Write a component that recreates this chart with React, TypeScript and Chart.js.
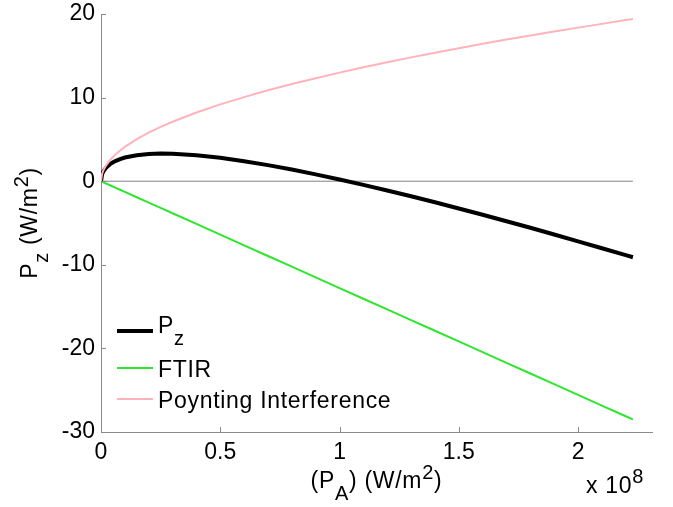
import React, { useEffect, useRef } from 'react';
import { Chart, registerables } from 'chart.js';

Chart.register(...registerables);

// x in units of 10^8 W/m^2
const xValues = [0, 0.005, 0.01, 0.02, 0.04, 0.06, 0.08, 0.1, 0.15, 0.2, 0.25, 0.3, 0.4, 0.5, 0.6, 0.7, 0.8, 0.9, 1.0, 1.1, 1.2, 1.3, 1.4, 1.5, 1.6, 1.7, 1.8, 1.9, 2.0, 2.1, 2.2, 2.23];
const pzValues = [0, 0.86, 1.17, 1.58, 2.09, 2.41, 2.65, 2.83, 3.11, 3.25, 3.30, 3.28, 3.11, 2.80, 2.39, 1.92, 1.40, 0.82, 0.21, -0.44, -1.11, -1.80, -2.52, -3.26, -4.02, -4.79, -5.57, -6.37, -7.19, -8.02, -8.85, -9.10];
const ftirValues = [0, -0.06, -0.13, -0.26, -0.51, -0.77, -1.02, -1.28, -1.92, -2.56, -3.20, -3.83, -5.11, -6.39, -7.67, -8.95, -10.22, -11.50, -12.78, -14.06, -15.34, -16.61, -17.89, -19.17, -20.45, -21.73, -23.00, -24.28, -25.56, -26.84, -28.12, -28.50];
const poyntingValues = [0, 0.92, 1.30, 1.84, 2.60, 3.18, 3.67, 4.11, 5.03, 5.81, 6.50, 7.11, 8.22, 9.19, 10.06, 10.87, 11.62, 12.32, 12.99, 13.62, 14.23, 14.81, 15.37, 15.91, 16.43, 16.94, 17.43, 17.91, 18.37, 18.82, 19.27, 19.40];
const zeroLineX = [0, 2.23];
const zeroLineY = [0, 0];

const xTicks = [0, 0.5, 1, 1.5, 2];
const yTicks = [-30, -20, -10, 0, 10, 20];
const xMin = 0;
const xMax = 2.31;
const yMin = -30;
const yMax = 20;

const FONT = '"Liberation Sans", Arial, sans-serif';
const TEXT_SIZE = 23;
const AXIS_GRAY = '#8a8a8a';
const PZ_COLOR = '#000000';
const FTIR_COLOR = '#2ee62e';
const POYNTING_COLOR = '#ffb3ba';
const ZERO_COLOR = '#808080';

type Part = [string, 'n' | 'sub' | 'sup'];

function drawRich(ctx: CanvasRenderingContext2D, parts: Part[], x: number, y: number, align: 'left' | 'center' | 'right', size: number, subDy: number, supDy: number) {
  const subSize = Math.round(size * 0.85);
  (ctx as any).letterSpacing = '0.7px';
  const widths = parts.map(([t, k]) => {
    ctx.font = `${k === 'n' ? size : subSize}px ${FONT}`;
    return ctx.measureText(t).width;
  });
  const total = widths.reduce((a, b) => a + b, 0);
  let cx = align === 'left' ? x : align === 'center' ? x - total / 2 : x - total;
  ctx.textAlign = 'left';
  ctx.textBaseline = 'alphabetic';
  parts.forEach(([t, k], i) => {
    ctx.font = `${k === 'n' ? size : subSize}px ${FONT}`;
    const dy = k === 'sub' ? subDy : k === 'sup' ? supDy : 0;
    ctx.fillText(t, cx, y + dy);
    cx += widths[i];
  });
  (ctx as any).letterSpacing = '0px';
}

const decorPlugin = {
  id: 'decor',
  afterDraw(chart: any) {
    const { ctx, chartArea, scales } = chart;
    const xs = scales.x;
    const ys = scales.y;
    ctx.save();
    // inward ticks
    ctx.strokeStyle = AXIS_GRAY;
    ctx.lineWidth = 1;
    ctx.beginPath();
    xTicks.forEach((v) => {
      const px = Math.round(xs.getPixelForValue(v)) + 0.5;
      ctx.moveTo(px, chartArea.bottom);
      ctx.lineTo(px, chartArea.bottom - 5);
    });
    yTicks.forEach((v) => {
      const py = Math.round(ys.getPixelForValue(v)) + 0.5;
      ctx.moveTo(chartArea.left, py);
      ctx.lineTo(chartArea.left + 5, py);
    });
    ctx.stroke();

    ctx.fillStyle = '#000';
    // x title
    drawRich(ctx, [['(P', 'n'], ['A', 'sub'], [') (W/m', 'n'], ['2', 'sup'], [')', 'n']], (chartArea.left + chartArea.right) / 2, 488, 'center', TEXT_SIZE, 12, -9);
    // exponent
    drawRich(ctx, [['x 10', 'n'], ['8', 'sup']], chartArea.right - 8, 493, 'right', TEXT_SIZE, 12, -10);
    // y title
    ctx.save();
    ctx.translate(37, (chartArea.top + chartArea.bottom) / 2);
    ctx.rotate(-Math.PI / 2);
    drawRich(ctx, [['P', 'n'], ['z', 'sub'], [' (W/m', 'n'], ['2', 'sup'], [')', 'n']], 0, 0, 'center', TEXT_SIZE, 11, -9);
    ctx.restore();

    // legend
    const lx0 = chartArea.left + 16;
    const lx1 = chartArea.left + 52;
    const tx = chartArea.left + 57;
    const rows: { y: number; base: number; color: string; width: number; parts: Part[] }[] = [
      { y: 331, base: 333, color: PZ_COLOR, width: 4, parts: [['P', 'n'], ['z', 'sub']] },
      { y: 368, base: 377, color: FTIR_COLOR, width: 2, parts: [['FTIR', 'n']] },
      { y: 399, base: 408, color: POYNTING_COLOR, width: 2, parts: [['Poynting Interference', 'n']] },
    ];
    rows.forEach((r) => {
      ctx.strokeStyle = r.color;
      ctx.lineWidth = r.width;
      ctx.beginPath();
      ctx.moveTo(lx0, r.y);
      ctx.lineTo(lx1, r.y);
      ctx.stroke();
      ctx.fillStyle = '#000';
      drawRich(ctx, r.parts, tx, r.base, 'left', TEXT_SIZE, 12, -9);
    });
    ctx.restore();
  },
};

function toPoints(xsArr: number[], ysArr: number[]) {
  return xsArr.map((x, i) => ({ x, y: ysArr[i] }));
}

export default function App() {
  const ref = useRef<HTMLCanvasElement | null>(null);
  useEffect(() => {
    document.body.style.margin = '0';
    const canvas = ref.current!;
    const chart = new Chart(canvas, {
      type: 'line',
      data: {
        datasets: [
          { label: 'Poynting Interference', data: toPoints(xValues, poyntingValues), borderColor: POYNTING_COLOR, borderWidth: 2, pointRadius: 0, tension: 0, fill: false },
          { label: 'P_z', data: toPoints(xValues, pzValues), borderColor: PZ_COLOR, borderWidth: 4, pointRadius: 0, tension: 0, fill: false },
          { label: 'FTIR', data: toPoints(xValues, ftirValues), borderColor: FTIR_COLOR, borderWidth: 2, pointRadius: 0, tension: 0, fill: false },
          { label: 'zero', data: toPoints(zeroLineX, zeroLineY), borderColor: ZERO_COLOR, borderWidth: 1, pointRadius: 0, tension: 0, fill: false },
        ],
      },
      options: {
        animation: false,
        responsive: false,
        events: [],
        layout: { padding: { top: 14, right: 21, left: 0, bottom: 0 } },
        plugins: { legend: { display: false }, tooltip: { enabled: false } },
        scales: {
          x: {
            type: 'linear',
            min: xMin,
            max: xMax,
            grid: { display: true, drawOnChartArea: false, drawTicks: false },
            border: { display: true, color: AXIS_GRAY, width: 1 },
            ticks: { font: { family: FONT, size: TEXT_SIZE }, color: '#000', padding: 7, maxRotation: 0, autoSkip: false, callback: (v: any) => String(v) },
            afterBuildTicks: (s: any) => { s.ticks = xTicks.map((v) => ({ value: v })); },
            afterFit: (s: any) => { s.height = 75; s.paddingLeft = 0; s.paddingRight = 0; },
          },
          y: {
            type: 'linear',
            min: yMin,
            max: yMax,
            grid: { display: true, drawOnChartArea: false, drawTicks: false },
            border: { display: true, color: AXIS_GRAY, width: 1 },
            ticks: { font: { family: FONT, size: TEXT_SIZE }, color: '#000', padding: 6, autoSkip: false, callback: (v: any) => String(v) },
            afterBuildTicks: (s: any) => { s.ticks = yTicks.map((v) => ({ value: v })); },
            afterFit: (s: any) => { s.width = 101; s.paddingTop = 0; s.paddingBottom = 0; },
          },
        },
      },
      plugins: [decorPlugin],
    } as any);
    return () => chart.destroy();
  }, []);
  return (
    <div style={{ position: 'absolute', left: 0, top: 0, width: 673, height: 507, background: '#fff' }}>
      <canvas ref={ref} width={673} height={507} />
    </div>
  );
}
